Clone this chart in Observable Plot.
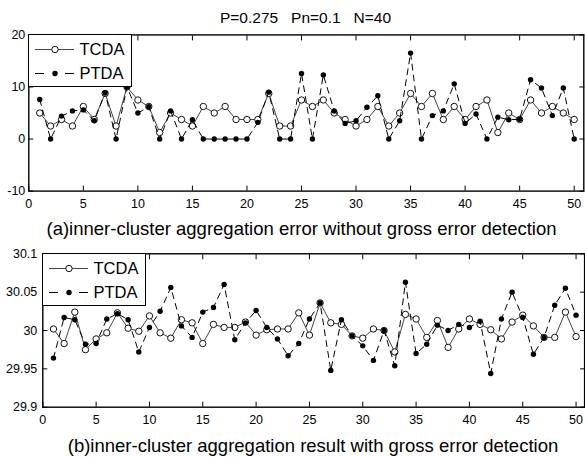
<!DOCTYPE html>
<html><head><meta charset="utf-8">
<script src="https://cdn.jsdelivr.net/npm/d3@7"></script>
<script src="https://cdn.jsdelivr.net/npm/@observablehq/plot@0.6"></script>
<style>
body{margin:0;background:#fff;font-family:"Liberation Sans",Arial,sans-serif;color:#000;}
#wrap{position:relative;width:585px;height:457px;overflow:hidden;}
.abs{position:absolute;}
.title{font-size:15.5px;line-height:18px;text-align:center;white-space:pre;}
.cap{font-size:18.5px;line-height:20px;text-align:center;white-space:nowrap;}
.legend{box-sizing:border-box;border:1.5px solid #000;background:#fff;}
</style></head><body><div id="wrap"></div>
<script>
// ---------- data ----------
const idx = d3.range(1, 51);
const xTicks = [0, 5, 10, 15, 20, 25, 30, 35, 40, 45, 50];
const seriesNames = ["TCDA", "PTDA"];
const titleText = "P=0.275   Pn=0.1   N=40";
const captionA = "(a)inner-cluster aggregation error without gross error detection";
const captionB = "(b)inner-cluster aggregation result with gross error detection";

const yTicksA = [-10, 0, 10, 20];
const tcdaA = [5, 2.5, 3.75, 2.5, 6.25, 3.75, 8.75, 2.5, 10, 7.5, 6.25, 1.25, 5, 3.75, 2.5, 6.25, 5, 6.25, 3.75, 3.75,
  3.75, 8.75, 2.5, 2.5, 7.5, 6.25, 7.5, 5, 3.75, 2.5, 3.75, 6.25, 2.5, 5, 8.75, 6.25, 8.75, 3.75, 6.25, 3.75,
  6.25, 7.5, 1.25, 5, 3.75, 7.5, 5, 6.25, 5, 3.75];
const ptdaA = [7.6, 0, 4.4, 5.4, 5.6, 3.5, 8.9, 0, 10, 5.0, 6.2, 0, 5.4, 0, 3.7, 0, 0, 0, 0, 0,
  3.2, 9.0, 0, 0, 12.6, 0, 12.3, 5.4, 3.0, 3.5, 6.1, 8.3, 0, 3.5, 16.5, 0, 4.5, 5.4, 10.6, 3.0,
  4.8, 0, 4.2, 3.7, 3.8, 11.4, 9.8, 4.5, 9.8, 0];

const yTicksB = [29.9, 29.95, 30, 30.05, 30.1];
const tcdaB = [30.002, 29.983, 30.024, 29.975, 29.989, 29.997, 30.023, 30.003, 29.999, 30.019,
  29.997, 29.990, 30.014, 30.010, 29.983, 30.008, 30.004, 30.004, 30.011, 29.994,
  30.001, 30.002, 30.002, 30.023, 29.994, 30.036, 30.010, 30.008, 29.993, 29.990,
  30.002, 30.000, 29.972, 30.021, 30.015, 29.991, 30.013, 29.978, 30.002, 30.015,
  30.008, 30.001, 29.989, 30.011, 30.020, 30.006, 29.991, 29.991, 30.024, 29.992];
const ptdaB = [29.964, 30.017, 30.014, 29.982, 29.983, 30.015, 30.022, 30.014, 29.972, 30.004,
  30.025, 30.056, 30.006, 29.991, 30.024, 30.030, 30.060, 29.988, 30.010, 30.026,
  30.004, 29.989, 29.967, 29.983, 30.015, 30.036, 29.948, 30.014, 29.993, 29.980,
  29.961, 30.000, 29.954, 30.063, 29.970, 29.982, 30.007, 30.000, 30.008, 30.004,
  30.012, 29.944, 30.015, 30.050, 30.017, 29.969, 29.991, 30.033, 30.055, 30.020];

// ---------- drawing ----------
const wrap = document.getElementById("wrap");
function place(el, left, top) { el.classList.add("abs"); el.style.left = left + "px"; el.style.top = top + "px"; wrap.appendChild(el); return el; }
function div(cls, text, left, top, width) { const d = document.createElement("div"); d.className = cls; d.textContent = text; d.style.width = width + "px"; return place(d, left, top); }

function panel(o) {
  const t = idx.map((x, i) => ({x, v: o.tcda[i]}));
  const p = idx.map((x, i) => ({x, v: o.ptda[i]}));
  const fmt = d => String(+d.toFixed(2));
  return Plot.plot({
    width: 585, height: o.height,
    marginLeft: o.ml, marginRight: o.mr, marginTop: o.mt, marginBottom: o.mb,
    style: {fontFamily: '"Liberation Sans", Arial, sans-serif', fontSize: "12.5px", color: "#000", background: "transparent"},
    x: {domain: [0, o.xMax], label: null},
    y: {domain: [o.yTicks[0], o.yTicks[o.yTicks.length - 1]], label: null},
    marks: [
      Plot.line(t, {x: "x", y: "v", stroke: "#444", strokeWidth: 1}),
      Plot.dot(t, {x: "x", y: "v", r: 3.2, stroke: "#111", fill: "white", strokeWidth: 1}),
      Plot.line(p, {x: "x", y: "v", stroke: "#000", strokeWidth: 1, strokeDasharray: "6,5"}),
      Plot.dot(p, {x: "x", y: "v", r: 2.7, fill: "#000", stroke: "none"}),
      Plot.axisX(xTicks, {anchor: "bottom", tickSize: 0, tickPadding: o.xPad, label: null}),
      Plot.axisX(xTicks, {anchor: "bottom", tickSize: -5, fill: "none", label: null}),
      Plot.axisX(xTicks, {anchor: "top", tickSize: -5, fill: "none", label: null}),
      Plot.axisY(o.yTicks, {anchor: "left", tickSize: 0, tickPadding: o.yPad, tickFormat: fmt, label: null}),
      Plot.axisY(o.yTicks, {anchor: "left", tickSize: -5, fill: "none", label: null}),
      Plot.axisY(o.yTicks, {anchor: "right", tickSize: -5, fill: "none", label: null}),
      Plot.frame({stroke: "#000", strokeWidth: 1.4})
    ]
  });
}

function legend(left, top) {
  const d = document.createElement("div");
  d.className = "legend";
  d.style.width = "104.5px"; d.style.height = "53.5px";
  const ns = "http://www.w3.org/2000/svg";
  const s = d3.create("svg").attr("width", 102).attr("height", 51)
    .style("position", "absolute").style("left", "0").style("top", "0");
  const y1 = 14.5, y2 = 38.5;
  s.append("line").attr("x1", 6).attr("x2", 45).attr("y1", y1).attr("y2", y1).attr("stroke", "#444");
  s.append("circle").attr("cx", 26).attr("cy", y1).attr("r", 3.2).attr("fill", "white").attr("stroke", "#111");
  s.append("line").attr("x1", 6).attr("x2", 15).attr("y1", y2).attr("y2", y2).attr("stroke", "#000");
  s.append("line").attr("x1", 36).attr("x2", 45).attr("y1", y2).attr("y2", y2).attr("stroke", "#000");
  s.append("circle").attr("cx", 26).attr("cy", y2).attr("r", 2.7).attr("fill", "#000");
  [[seriesNames[0], y1], [seriesNames[1], y2]].forEach(([n, y]) =>
    s.append("text").attr("x", 50.5).attr("y", y).attr("dy", "0.36em")
      .attr("font-size", 16.5).attr("font-family", '"Liberation Sans", Arial, sans-serif').text(n));
  d.appendChild(s.node());
  return place(d, left, top);
}

div("title", titleText, 28, 9, 555);
place(panel({tcda: tcdaA, ptda: ptdaA, yTicks: yTicksA, height: 186, ml: 28.3, mr: 1.7, mt: 9.4, mb: 20.4, xMax: 50.88, xPad: 8, yPad: 3.5}), 0, 25);
legend(28.3 - 0.75, 34.3 - 0.75);
div("cap", captionA, 0, 219, 603);
place(panel({tcda: tcdaB, ptda: ptdaB, yTicks: yTicksB, height: 185, ml: 42.3, mr: 0.9, mt: 8.3, mb: 23.3, xMax: 50.8, xPad: 7.5, yPad: 5.5}), 0, 245);
legend(42.3 - 0.75, 253.3 - 0.75);
div("cap", captionB, 0, 436, 626);
</script></body></html>
